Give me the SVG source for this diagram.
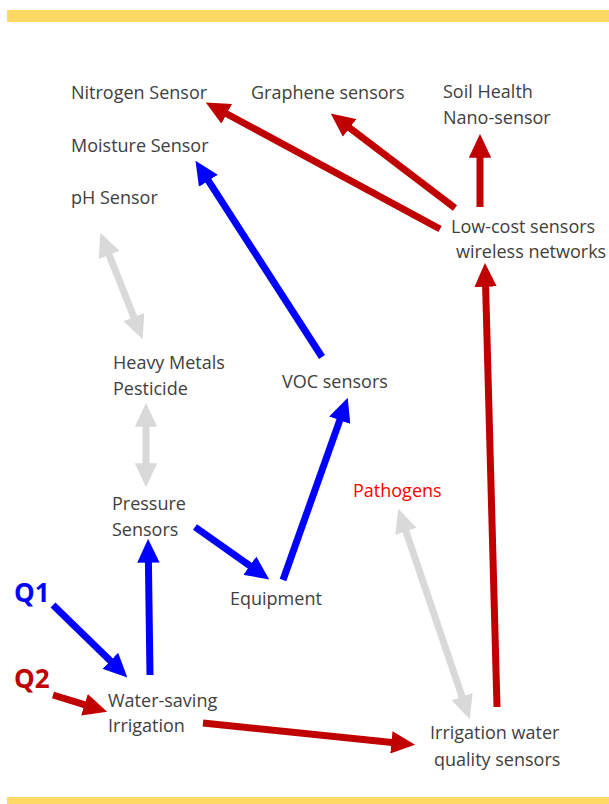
<svg xmlns="http://www.w3.org/2000/svg" width="609" height="804" viewBox="0 0 609 804">
<style>
.t{font-family:"Open Sans","Liberation Sans",sans-serif;font-size:18px;fill:#404040}
.q{font-family:"Open Sans","Liberation Sans",sans-serif;font-size:26px;font-weight:bold}
.r{stroke:#C00000;stroke-width:7;fill:none}
.b{stroke:#0000FF;stroke-width:7;fill:none}
.g{stroke:#D9D9D9;stroke-width:7;fill:none}
</style>
<defs>
<marker id="mr" viewBox="0 0 3.4 3.2" markerWidth="3.4" markerHeight="3.2" refX="0.1" refY="1.6" orient="auto"><path d="M0,0 L3.4,1.6 L0,3.2 z" fill="#C00000"/></marker>
<marker id="mb" viewBox="0 0 3.4 3.2" markerWidth="3.4" markerHeight="3.2" refX="0.1" refY="1.6" orient="auto"><path d="M0,0 L3.4,1.6 L0,3.2 z" fill="#0000FF"/></marker>
<marker id="mg" viewBox="0 0 3.4 3.2" markerWidth="3.4" markerHeight="3.2" refX="0.1" refY="1.6" orient="auto-start-reverse"><path d="M0,0 L3.4,1.6 L0,3.2 z" fill="#D9D9D9"/></marker>
</defs>
<rect x="7" y="10" width="602" height="12" fill="#FFD966"/>
<rect x="7" y="797" width="602" height="7" fill="#FFD966"/>
<g id="connectors">
<line class="r" x1="440" y1="229" x2="226.1" y2="113.5" marker-end="url(#mr)"/>
<line class="r" x1="455" y1="208" x2="349.1" y2="127.5" marker-end="url(#mr)"/>
<line class="r" x1="480" y1="207" x2="480" y2="157" marker-end="url(#mr)"/>
<line class="r" x1="497" y1="707" x2="485.6" y2="286" marker-end="url(#mr)"/>
<line class="r" x1="203" y1="723" x2="392.1" y2="742.4" marker-end="url(#mr)"/>
<line class="r" x1="53" y1="695" x2="85.1" y2="704.9" marker-end="url(#mr)"/>
<line class="b" x1="322" y1="357" x2="208" y2="180.2" marker-end="url(#mb)"/>
<line class="b" x1="283" y1="580" x2="340" y2="419.6" marker-end="url(#mb)"/>
<line class="b" x1="195" y1="527" x2="250.4" y2="566.1" marker-end="url(#mb)"/>
<line class="b" x1="150" y1="675" x2="148.4" y2="562" marker-end="url(#mb)"/>
<line class="b" x1="53" y1="605" x2="110.8" y2="661.3" marker-end="url(#mb)"/>
<line class="g" x1="108.9" y1="254.3" x2="134.1" y2="317.7" marker-start="url(#mg)" marker-end="url(#mg)"/>
<line class="g" x1="146" y1="426" x2="146" y2="464" marker-start="url(#mg)" marker-end="url(#mg)"/>
<line class="g" x1="405.7" y1="530.7" x2="462.3" y2="697.3" marker-start="url(#mg)" marker-end="url(#mg)"/>
</g>
<g id="nitrogen"><text class="t" x="71" y="99">Nitrogen Sensor</text></g>
<g id="graphene"><text class="t" x="251" y="99">Graphene sensors</text></g>
<g id="soil"><text class="t" x="443" y="98">Soil Health</text><text class="t" x="443" y="124">Nano-sensor</text></g>
<g id="moisture"><text class="t" x="71" y="152">Moisture Sensor</text></g>
<g id="ph"><text class="t" x="71" y="204">pH Sensor</text></g>
<g id="lowcost"><text class="t" x="451" y="233">Low-cost sensors</text><text class="t" x="456" y="258">wireless networks</text></g>
<g id="heavy"><text class="t" x="113" y="369">Heavy Metals</text><text class="t" x="113" y="395">Pesticide</text></g>
<g id="voc"><text class="t" x="282" y="388">VOC sensors</text></g>
<g id="pathogens"><text class="t" x="353" y="497" style="fill:#FF0000">Pathogens</text></g>
<g id="pressure"><text class="t" x="112" y="510">Pressure</text><text class="t" x="112" y="536">Sensors</text></g>
<g id="equipment"><text class="t" x="230" y="605">Equipment</text></g>
<g id="q1"><text class="q" x="14" y="602" fill="#0000FF">Q1</text></g>
<g id="q2"><text class="q" x="14" y="688" fill="#C00000">Q2</text></g>
<g id="watersaving"><text class="t" x="108" y="707">Water-saving</text><text class="t" x="108" y="732">Irrigation</text></g>
<g id="irrwater"><text class="t" x="430" y="739">Irrigation water</text><text class="t" x="434" y="766">quality sensors</text></g>
</svg>
